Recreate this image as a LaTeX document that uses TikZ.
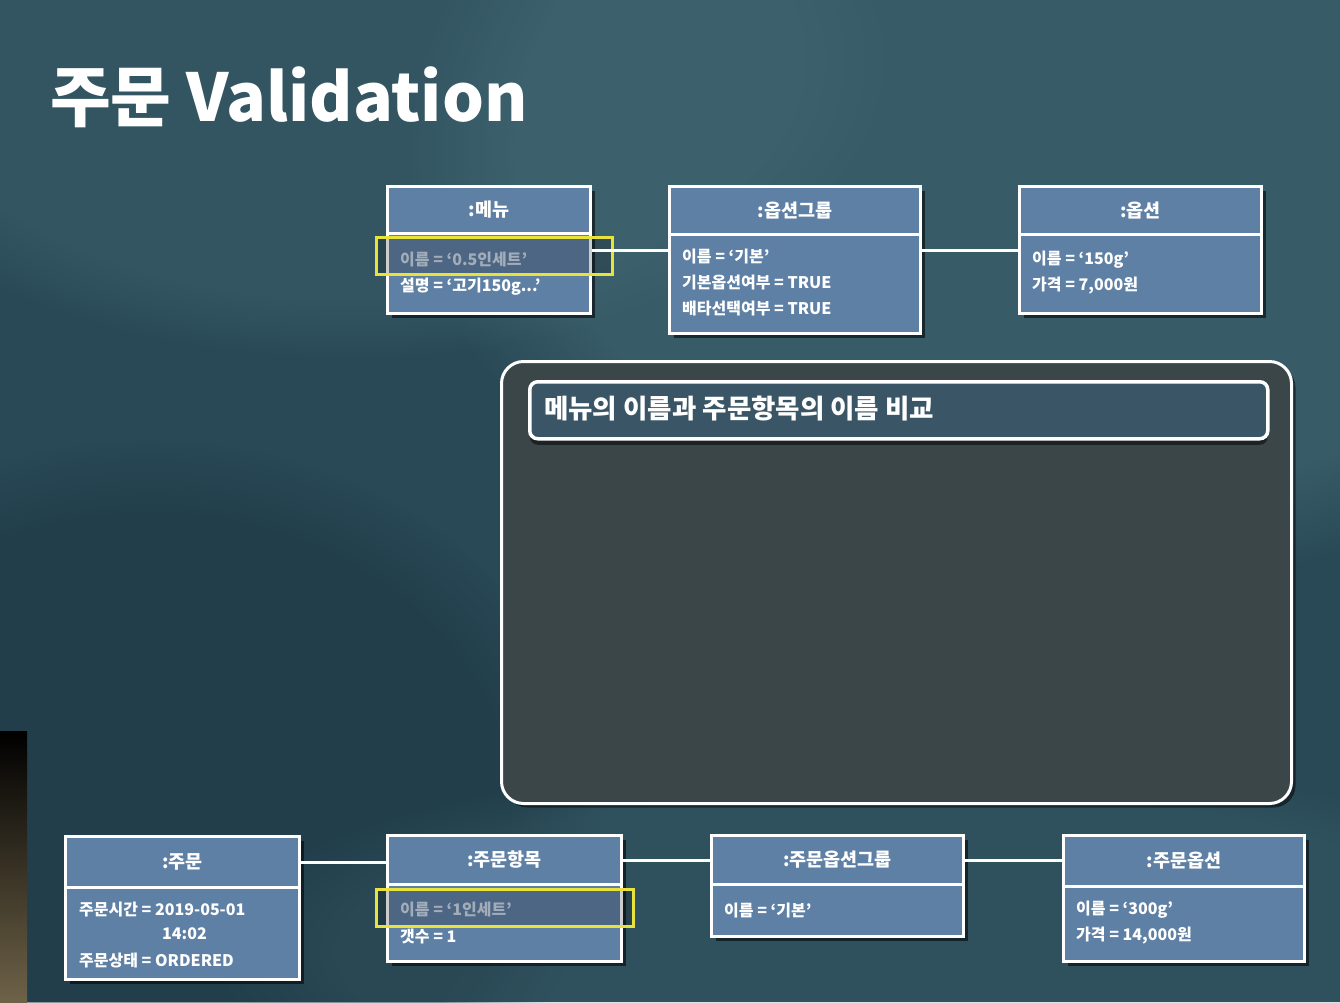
\documentclass[tikz,border=0pt]{standalone}
\usepackage{fontspec}
\setmainfont{Noto Sans CJK KR}
\usetikzlibrary{shadows,fadings}
\definecolor{bgbase}{HTML}{294956}
\definecolor{bglight}{HTML}{4A717D}
\definecolor{bgdark}{HTML}{1B3440}
\definecolor{boxblue}{HTML}{5F80A5}
\definecolor{dimtext}{HTML}{A3ADBA}
\definecolor{hlyellow}{HTML}{E8E23C}
\definecolor{panelfill}{HTML}{3B4649}
\definecolor{panelhead}{HTML}{3A5666}
\definecolor{strip}{HTML}{6E6248}
\tikzset{
 objbox/.style={draw=white, line width=3pt, fill=boxblue, rectangle, inner sep=0pt, anchor=north west,
   drop shadow={shadow xshift=4pt, shadow yshift=-4pt, opacity=0.55, fill=black}},
 objhead/.style={draw=white, line width=3pt, rectangle, inner sep=0pt, anchor=north west, text=white,
   font=\bfseries\fontsize{18.5}{21}\selectfont},
 attr/.style={anchor=west, inner sep=0pt, text=white, font=\bfseries\fontsize{16}{19}\selectfont},
 dimattr/.style={attr, text=dimtext},
 hilite/.style={draw=hlyellow, line width=3pt, fill=black, fill opacity=0.2, draw opacity=1,
   rectangle, inner sep=0pt, anchor=north west},
 conn/.style={draw=white, line width=3pt},
 glow/.style={path fading=circle with fuzzy edge 20 percent, fit fading=true},
}
\begin{document}
\begin{tikzpicture}[x=1pt,y=-1pt]
\useasboundingbox (0,0) rectangle (1340,1002);
% background
\fill[bgbase] (0,0) rectangle (1340,1002);
\begin{scope}
\clip (0,0) rectangle (1340,1002);
\fill[bglight, opacity=0.45, glow] (1050,150) ellipse (650 and 450);
\fill[bglight, opacity=0.3, glow] (350,60) ellipse (550 and 300);
\fill[bgdark, opacity=0.5, glow] (150,820) ellipse (450 and 380);
\fill[bglight, opacity=0.2, glow] (900,950) ellipse (700 and 200);
\end{scope}
\shade[top color=black, bottom color=strip] (0,731) rectangle (27,1002);
% title
\node[anchor=west, inner sep=0pt, text=white, font=\bfseries\fontsize{66}{68}\selectfont] (title) at (50,97) {주문 Validation};
% panel
\node[draw=white, line width=3pt, fill=panelfill, rounded corners=22pt, rectangle, inner sep=0pt,
  anchor=north west, minimum width=790pt, minimum height=442pt,
  drop shadow={shadow xshift=4pt, shadow yshift=-4pt, opacity=0.5, fill=black}] (panel) at (500,360) {};
\node[draw=white, line width=3.5pt, fill=panelhead, rounded corners=8pt, rectangle, inner sep=0pt,
  anchor=north west, minimum width=738pt, minimum height=57pt,
  drop shadow={shadow xshift=0pt, shadow yshift=-6pt, opacity=0.5, fill=black}] (phead) at (528,380) {};
\node[anchor=west, inner sep=0pt, text=white, font=\bfseries\fontsize{26.5}{29}\selectfont] (ptitle) at (544,409) {메뉴의 이름과 주문항목의 이름 비교};
% top boxes
\node[objbox, minimum width=203pt, minimum height=127pt] (menu) at (386,185) {};
\node[objhead, minimum width=203pt, minimum height=47pt] (menuH) at (386,185) {:메뉴};
\node[objbox, minimum width=251pt, minimum height=147pt] (og) at (668,185) {};
\node[objhead, minimum width=251pt, minimum height=48pt] (ogH) at (668,185) {:옵션그룹};
\node[objbox, minimum width=242pt, minimum height=127pt] (opt) at (1018,185) {};
\node[objhead, minimum width=242pt, minimum height=48pt] (optH) at (1018,185) {:옵션};
% bottom boxes
\node[objbox, minimum width=234pt, minimum height=143pt] (ju) at (64,835) {};
\node[objhead, minimum width=234pt, minimum height=51pt] (juH) at (64,835) {:주문};
\node[objbox, minimum width=234pt, minimum height=126pt] (jh) at (386,834) {};
\node[objhead, minimum width=234pt, minimum height=49pt] (jhH) at (386,834) {:주문항목};
\node[objbox, minimum width=252pt, minimum height=101pt] (jog) at (710,834) {};
\node[objhead, minimum width=252pt, minimum height=49pt] (jogH) at (710,834) {:주문옵션그룹};
\node[objbox, minimum width=241pt, minimum height=126pt] (jo) at (1062,834) {};
\node[objhead, minimum width=241pt, minimum height=51pt] (joH) at (1062,834) {:주문옵션};
% highlights
\node[hilite, minimum width=236pt, minimum height=37pt] (hl1) at (375,236) {};
\node[hilite, minimum width=257pt, minimum height=37pt] (hl2) at (375,888) {};
% attributes
\node[dimattr] (menuA1) at (400,260) {이름 = ‘0.5인세트’};
\node[attr] (menuA2) at (400,287) {설명 = ‘고기150g...’};
\node[attr] (ogA1) at (682,257) {이름 = ‘기본’};
\node[attr] (ogA2) at (682,283) {기본옵션여부 = TRUE};
\node[attr] (ogA3) at (682,309) {배타선택여부 = TRUE};
\node[attr] (optA1) at (1032,260) {이름 = ‘150g’};
\node[attr] (optA2) at (1032,286) {가격 = 7,000원};
\node[attr] (juA1) at (79,909) {주문시간 = 2019-05-01};
\node[attr] (juA2) at (162,934) {14:02};
\node[attr] (juA3) at (79,960) {주문상태 = ORDERED};
\node[dimattr] (jhA1) at (400,909) {이름 = ‘1인세트’};
\node[attr] (jhA2) at (400,936) {갯수 = 1};
\node[attr] (jogA1) at (724,910) {이름 = ‘기본’};
\node[attr] (joA1) at (1076,910) {이름 = ‘300g’};
\node[attr] (joA2) at (1076,936) {가격 = 14,000원};
% connectors
\draw[conn] (menu.east) -- (menu.east -| og.west);
\draw[conn] (og.east |- menu.east) -- (menu.east -| opt.west);
\draw[conn] (juH.east) -- (juH.east -| jhH.west);
\draw[conn] (jhH.east) -- (jhH.east -| jogH.west);
\draw[conn] (jogH.east) -- (jogH.east -| joH.west);
\end{tikzpicture}
\end{document}
